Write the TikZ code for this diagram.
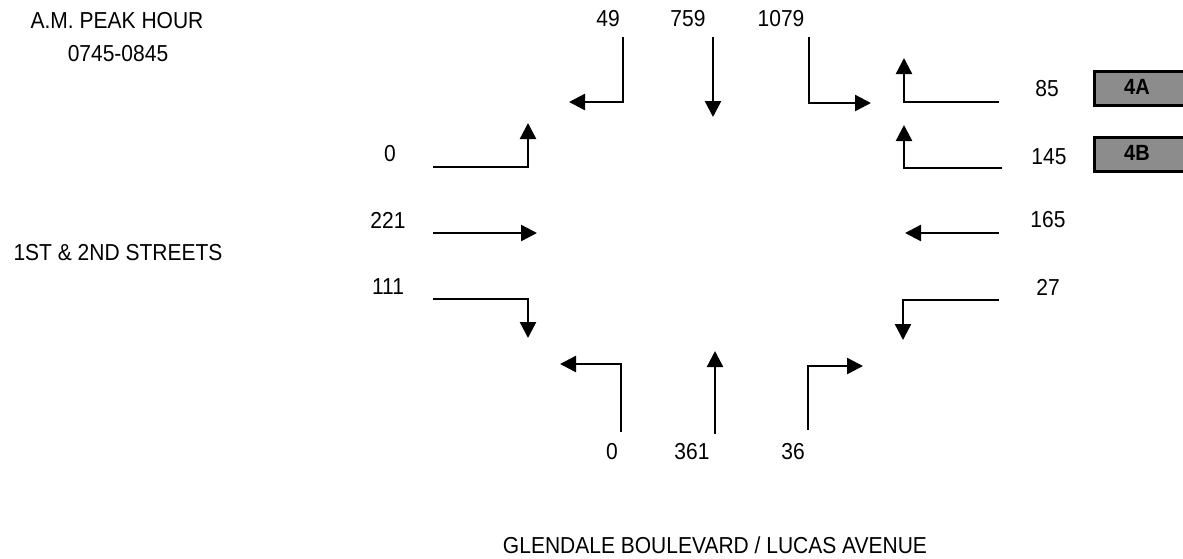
\documentclass[tikz,border=0pt]{standalone}
\usepackage{fontspec}
\setmainfont{Liberation Sans}
\usetikzlibrary{arrows.meta}
\newcommand{\tall}[1]{\scalebox{1}[1.1]{#1}}
\tikzset{
  lbl/.style={inner sep=0pt, font=\fontsize{21}{24}\selectfont},
  flow/.style={line width=2.4pt, -{Triangle[length=16pt,width=16pt]}},
  phase/.style={draw=black, line width=3pt, fill=black!45, minimum height=34pt, inner sep=0pt},
}
\begin{document}
\begin{tikzpicture}[x=1pt,y=-1pt]
\useasboundingbox (0,0) rectangle (1183,558);
% titles
\node[lbl] (t1) at (117,21) {\tall{A.M. PEAK HOUR}};
\node[lbl] (t2) at (118,54) {\tall{0745-0845}};
\node[lbl] (st) at (118,253) {\tall{1ST \& 2ND STREETS}};
\node[lbl, anchor=base] (gl) at (715,553) {\tall{GLENDALE BOULEVARD / LUCAS AVENUE}};
% volumes
\node[lbl] (n49) at (608,19) {\tall{49}};
\node[lbl] (n759) at (688,19) {\tall{759}};
\node[lbl] (n1079) at (781,19) {\tall{1079}};
\node[lbl] (e0) at (390,154) {\tall{0}};
\node[lbl] (e221) at (388,220) {\tall{221}};
\node[lbl] (e111) at (388,287) {\tall{111}};
\node[lbl] (w85) at (1047,89) {\tall{85}};
\node[lbl] (w145) at (1049,157) {\tall{145}};
\node[lbl] (w165) at (1048,220) {\tall{165}};
\node[lbl] (w27) at (1048,287) {\tall{27}};
\node[lbl] (s0) at (612,452) {\tall{0}};
\node[lbl] (s361) at (692,452) {\tall{361}};
\node[lbl] (s36) at (793,452) {\tall{36}};
% phase boxes
\node[phase, minimum width=100pt, anchor=north west] (b4a) at (1093,70) {};
\node[phase, minimum width=100pt, anchor=north west] (b4b) at (1093,136) {};
\node[lbl, font=\fontsize{20}{22}\selectfont\bfseries] (l4a) at (1137,87) {\tall{4A}};
\node[lbl, font=\fontsize{20}{22}\selectfont\bfseries] (l4b) at (1137,153) {\tall{4B}};
% coordinates
\coordinate (a1) at (623,37); \coordinate (a2) at (623,102); \coordinate (a3) at (569,102);
\coordinate (b1) at (713,37); \coordinate (b2) at (713,117);
\coordinate (c1) at (809,37); \coordinate (c2) at (809,103); \coordinate (c3) at (871,103);
\coordinate (d1) at (999,102); \coordinate (d2) at (904,102); \coordinate (d3) at (904,58);
\coordinate (f1) at (1002,168); \coordinate (f2) at (904,168); \coordinate (f3) at (904,125);
\coordinate (g1) at (999,233); \coordinate (g2) at (905,233);
\coordinate (h1) at (999,300); \coordinate (h2) at (903,300); \coordinate (h3) at (903,340);
\coordinate (i1) at (433,167); \coordinate (i2) at (528,167); \coordinate (i3) at (528,123);
\coordinate (j1) at (433,233); \coordinate (j2) at (537,233);
\coordinate (k1) at (433,299); \coordinate (k2) at (528,299); \coordinate (k3) at (528,338);
\coordinate (m1) at (621,432); \coordinate (m2) at (621,364); \coordinate (m3) at (560,364);
\coordinate (p1) at (715,434); \coordinate (p2) at (715,351);
\coordinate (q1) at (808,430); \coordinate (q2) at (808,366); \coordinate (q3) at (863,366);
% arrows
\draw[flow] (a1) -- (a2) -- (a3);
\draw[flow] (b1) -- (b2);
\draw[flow] (c1) -- (c2) -- (c3);
\draw[flow] (d1) -- (d2) -- (d3);
\draw[flow] (f1) -- (f2) -- (f3);
\draw[flow] (g1) -- (g2);
\draw[flow] (h1) -- (h2) -- (h3);
\draw[flow] (i1) -- (i2) -- (i3);
\draw[flow] (j1) -- (j2);
\draw[flow] (k1) -- (k2) -- (k3);
\draw[flow] (m1) -- (m2) -- (m3);
\draw[flow] (p1) -- (p2);
\draw[flow] (q1) -- (q2) -- (q3);
\end{tikzpicture}
\end{document}
